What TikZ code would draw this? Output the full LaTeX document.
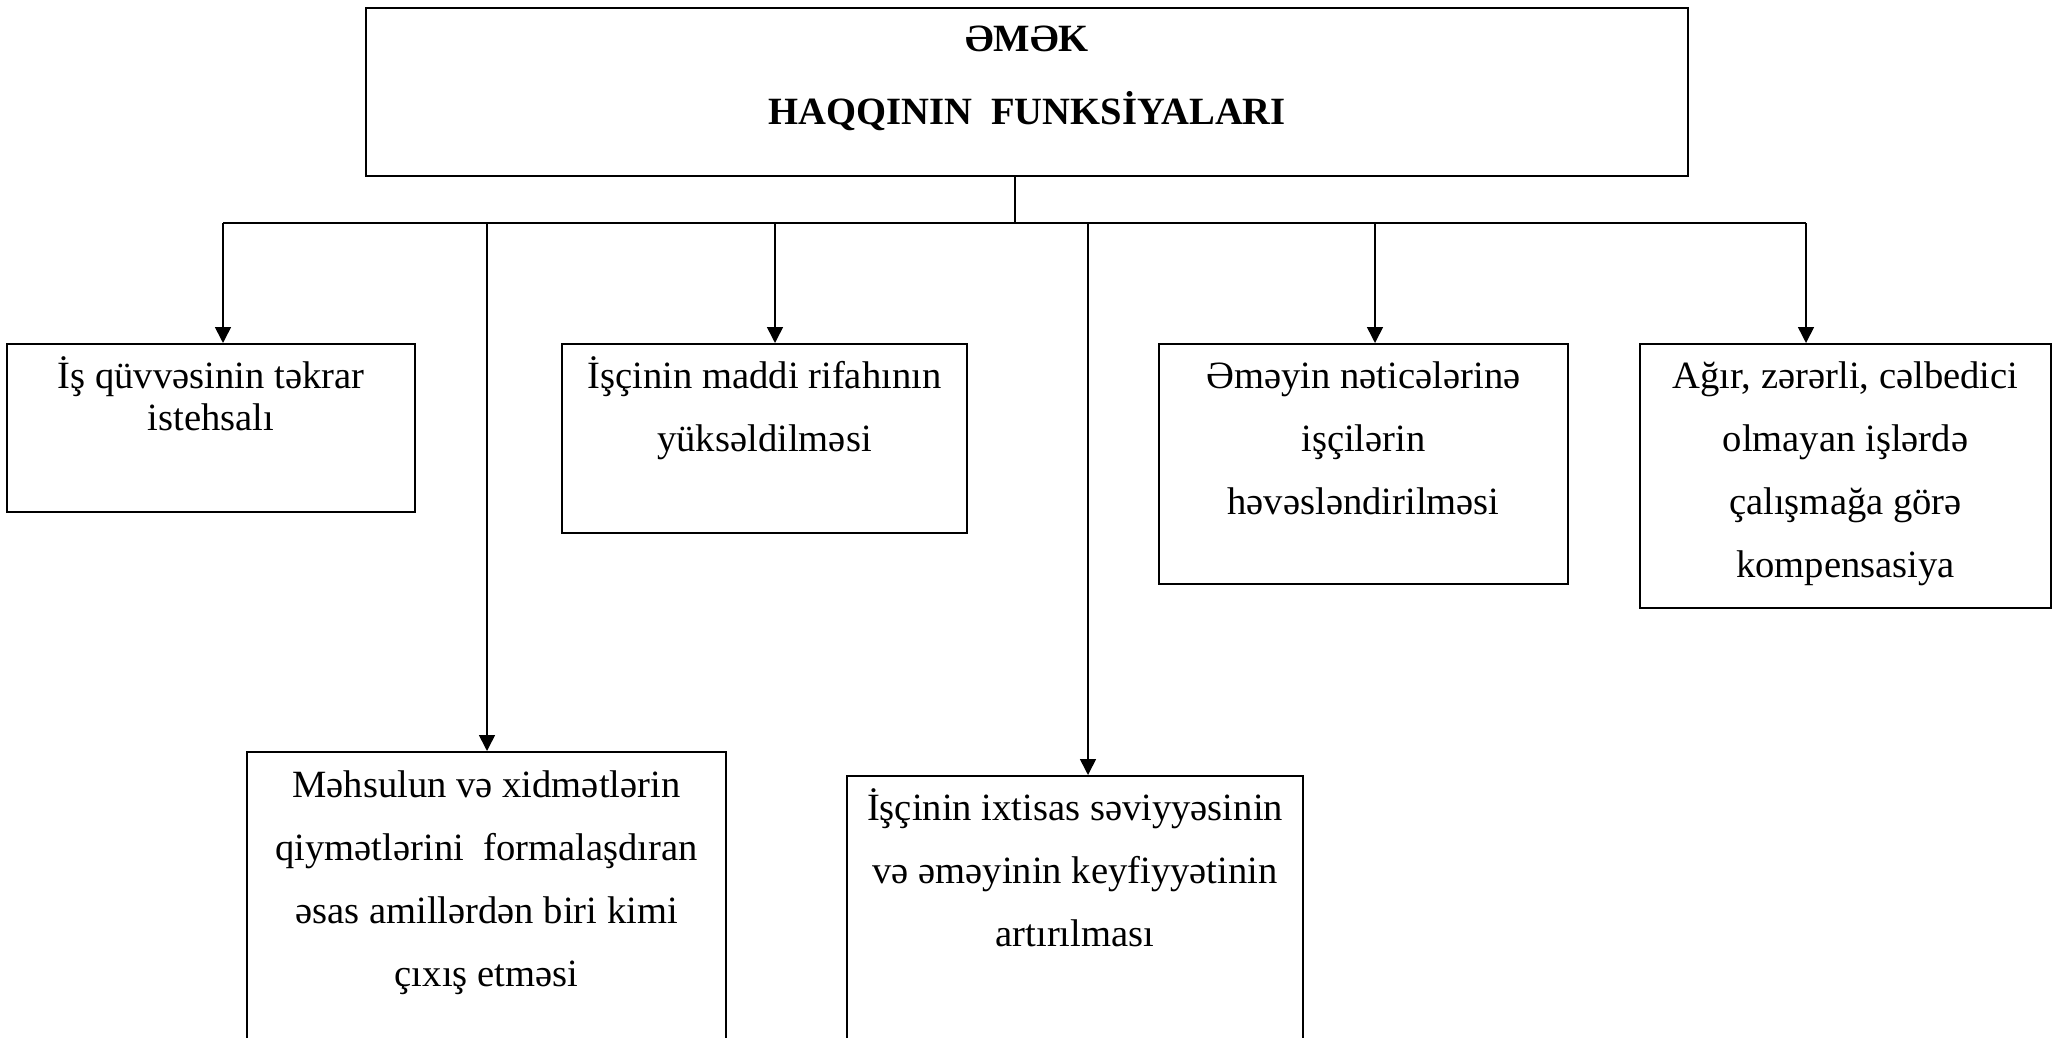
\documentclass[tikz,border=0pt]{standalone}
\usepackage{fontspec}
\setmainfont{Liberation Serif}
\usetikzlibrary{arrows.meta}

\begin{document}
\begin{tikzpicture}[x=0.5pt,y=-0.5pt,
  every node/.style={font=\fontsize{19.3}{31.5}\selectfont},
  box/.style={draw,line width=1pt,anchor=north,align=center,inner xsep=0pt,inner ysep=0pt},
  arr/.style={line width=.8pt,-{Triangle[length=8pt,width=8pt]}}]
\useasboundingbox (0,0) rectangle (2062,1038);
\clip (0,0) rectangle (2062,1038);
% top box
\node[box,minimum width=661pt,text height=58.5pt,text depth=25.5pt,font=\bfseries\fontsize{19.3}{36.5}\selectfont] (top) at (1027,7) {ƏMƏK\\HAQQININ\ \ FUNKSİYALARI};
% first row
\node[box,minimum width=204pt,text height=43pt,text depth=41pt,font=\fontsize{19.3}{21}\selectfont] (b1) at (211,343) {İş qüvvəsinin təkrar\\istehsalı};
\node[box,minimum width=202.5pt,text height=53.5pt,text depth=41pt] (b2) at (764.5,343) {İşçinin maddi rifahının\\yüksəldilməsi};
\node[box,minimum width=204.5pt,text height=85pt,text depth=35pt] (b3) at (1363.5,343) {Əməyin nəticələrinə\\işçilərin\\həvəsləndirilməsi};
\node[box,minimum width=205.5pt,text height=116.5pt,text depth=15.5pt] (b4) at (1845.5,343) {Ağır, zərərli, cəlbedici\\olmayan işlərdə\\çalışmağa görə\\kompensasiya};
% second row
\node[box,minimum width=239.5pt,text height=117pt,text depth=37.5pt] (b5) at (486.5,751) {Məhsulun və xidmətlərin\\qiymətlərini\ \ formalaşdıran\\əsas amillərdən biri kimi\\çıxış etməsi};
\node[box,minimum width=228pt,text height=85pt,text depth=57.5pt] (b6) at (1075,775) {İşçinin ixtisas səviyyəsinin\\və əməyinin keyfiyyətinin\\artırılması};
% connectors
\coordinate (hub) at (1015,223);
\coordinate (d1) at (223,223);
\coordinate (d5) at (487,223);
\coordinate (d2) at (775,223);
\coordinate (d6) at (1088,223);
\coordinate (d3) at (1375,223);
\coordinate (d4) at (1806,223);
\draw[line width=.8pt] (top.south -| hub) -- (hub);
\draw[line width=.8pt] (d1) -- (d4);
\foreach \i in {1,...,6}
  \draw[arr] (d\i) -- (d\i |- b\i.north);
\end{tikzpicture}
\end{document}
